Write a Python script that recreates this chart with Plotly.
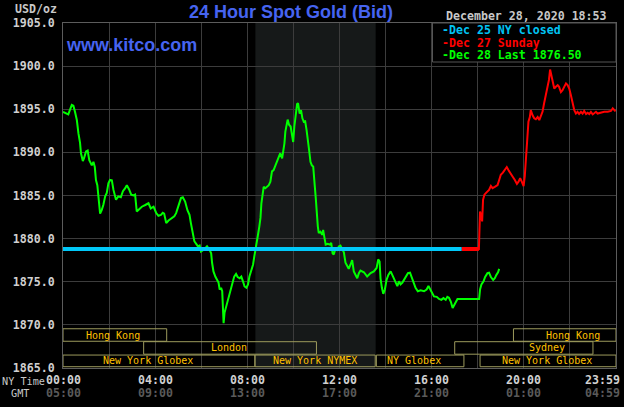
import plotly.graph_objects as go

# ---------------- data ----------------
# time in hours after 00:00 NY time, value in USD/oz
green_t = [0.00,0.16,0.23,0.38,0.45,0.52,0.60,0.67,0.74,0.78,0.86,0.91,1.00,1.07,1.14,1.25,1.32,1.38,1.43,1.49,
           1.55,1.61,1.68,1.75,1.83,1.90,1.97,2.04,2.12,2.19,2.30,2.40,2.51,2.60,2.70,2.77,2.87,2.96,3.06,3.13,
           3.20,3.32,3.42,3.57,3.71,3.81,3.93,4.04,4.14,4.25,4.33,4.39,4.48,4.58,4.73,4.83,4.91,5.01,5.12,5.20,
           5.30,5.40,5.49,5.55,5.62,5.70,5.78,5.86,5.93,5.99,6.10,6.25,6.36,6.43,6.47,6.53,6.61,6.68,6.75,6.80,
           6.86,6.91,6.94,6.97,7.01,7.09,7.16,7.23,7.30,7.38,7.43,7.51,7.58,7.67,7.74,7.81,7.88,7.96,8.03,8.09,
           8.16,8.25,8.30,8.39,8.45,8.52,8.57,8.61,8.67,8.71,8.78,8.86,8.93,9.00,9.07,9.14,9.22,9.29,9.36,9.43,
           9.51,9.55,9.61,9.65,9.70,9.75,9.81,9.88,9.94,9.99,10.04,10.10,10.16,10.20,10.27,10.33,10.39,10.45,10.51,10.57,
           10.62,10.68,10.74,10.80,10.86,10.88,10.93,10.97,11.01,11.06,11.10,11.17,11.25,11.29,11.35,11.40,11.49,11.58,11.64,11.70,
           11.75,11.83,11.90,11.97,12.04,12.13,12.19,12.26,12.33,12.40,12.48,12.55,12.62,12.70,12.77,12.84,12.91,13.06,13.20,13.35,
           13.49,13.61,13.68,13.74,13.78,13.84,13.90,13.97,14.04,14.12,14.22,14.29,14.36,14.43,14.51,14.58,14.65,14.73,14.80,14.87,
           14.97,15.06,15.12,15.20,15.30,15.40,15.52,15.67,15.78,15.86,15.93,16.00,16.10,16.22,16.32,16.42,16.51,16.61,16.68,16.75,
           16.83,16.91,17.00,17.12,18.06,18.10,18.16,18.25,18.32,18.42,18.49,18.57,18.67,18.74,18.81,18.88,18.93]
green_v = [1894.7,1894.5,1894.4,1895.5,1895.4,1894.7,1893.75,1892.2,1891.1,1889.9,1889.0,1889.3,1890.1,1890.2,1889.1,1888.5,1888.9,1888.3,1886.8,1886.2,
           1884.1,1882.9,1883.3,1883.9,1884.9,1885.3,1886.4,1886.8,1886.75,1885.65,1884.5,1884.9,1884.8,1885.5,1885.85,1886.2,1885.7,1885.1,1885.0,1885.1,
           1883.15,1883.5,1883.7,1883.9,1884.1,1883.5,1883.7,1883.0,1882.65,1882.75,1883.0,1882.9,1881.8,1882.1,1882.4,1882.6,1882.95,1883.9,1884.7,1884.8,
           1884.3,1883.3,1882.75,1881.8,1880.65,1879.7,1879.4,1879.1,1879.2,1878.5,1878.7,1879.1,1878.7,1878.3,1877.2,1876.2,1875.6,1875.3,1874.9,1874.1,
           1874.3,1873.9,1872.55,1870.2,1871.4,1872.15,1872.9,1873.6,1874.1,1874.9,1875.6,1875.9,1875.55,1875.4,1875.6,1875.05,1874.45,1874.3,1874.7,1875.6,
           1876.2,1877.0,1877.9,1879.1,1880.25,1881.4,1882.4,1884.1,1885.1,1886.0,1885.85,1886.0,1886.2,1886.6,1887.8,1887.95,1888.5,1888.9,1889.5,1889.9,
           1889.3,1889.9,1891.05,1892.4,1893.4,1893.8,1893.2,1893.0,1892.0,1891.2,1893.0,1894.3,1895.6,1895.7,1894.5,1894.9,1893.95,1893.55,1893.6,1892.6,
           1891.2,1890.3,1888.9,1888.5,1888.35,1887.2,1886.0,1884.7,1882.95,1881.4,1880.65,1880.8,1880.45,1881.0,1880.05,1879.3,1879.4,1879.3,1879.5,1878.3,
           1878.15,1878.9,1878.7,1879.1,1879.2,1878.7,1878.4,1877.2,1876.8,1876.5,1877.0,1877.5,1876.2,1875.8,1875.4,1876.0,1876.3,1876.1,1875.6,1876.0,
           1876.2,1876.6,1877.6,1877.35,1875.4,1874.3,1873.6,1874.1,1875.2,1875.8,1876.2,1875.8,1875.4,1874.9,1874.5,1875.05,1874.7,1874.9,1875.2,1875.6,
           1876.0,1876.05,1875.6,1874.9,1874.3,1873.9,1874.0,1873.9,1874.1,1874.5,1874.1,1873.7,1873.3,1873.25,1873.0,1872.9,1873.1,1872.9,1873.25,1873.15,
           1872.7,1871.95,1872.45,1873.0,1873.0,1874.1,1874.7,1875.05,1875.55,1876.0,1876.05,1875.55,1875.2,1875.4,1875.8,1876.1,1876.5]

red_t = [17.30,18.05,18.07,18.10,18.14,18.19,18.23,18.29,18.36,18.42,18.49,18.57,18.64,18.74,18.86,18.93,19.00,19.09,19.17,19.26,
         19.33,19.40,19.51,19.61,19.70,19.77,19.84,19.91,19.99,20.04,20.09,20.12,20.16,20.20,20.26,20.30,20.38,20.45,20.52,20.60,
         20.67,20.74,20.81,20.88,20.96,21.03,21.09,21.14,21.20,21.26,21.32,21.39,21.47,21.53,21.61,21.68,21.75,21.83,21.90,21.97,
         22.04,22.12,22.19,22.26,22.33,22.40,22.48,22.55,22.62,22.70,22.77,22.84,22.91,22.99,23.06,23.13,23.20,23.35,23.49,23.64,
         23.78,23.86,23.93,23.98]
red_v = [1878.8,1878.8,1880.65,1883.15,1882.75,1882.0,1884.5,1885.1,1885.3,1885.5,1885.65,1886.1,1885.85,1886.0,1886.2,1886.8,1887.4,1887.65,1887.95,1888.3,
         1887.95,1887.6,1887.2,1886.8,1886.35,1886.6,1887.0,1886.6,1886.1,1887.2,1889.1,1890.3,1892.2,1893.55,1894.1,1894.9,1894.3,1893.95,1893.85,1894.1,
         1893.75,1894.3,1894.7,1895.7,1896.85,1897.4,1898.4,1899.6,1898.95,1898.4,1897.4,1897.6,1897.8,1897.6,1897.0,1897.2,1897.6,1898.0,1897.8,1897.4,
         1896.65,1895.7,1894.9,1894.5,1894.7,1894.45,1894.7,1894.5,1894.8,1894.45,1894.6,1894.45,1894.7,1894.4,1894.6,1894.7,1894.5,1894.6,1894.7,1894.7,
         1894.8,1895.1,1894.8,1894.75]

prev_close = 1878.8          # Dec 25 NY close
prev_close_t = [0.0, 17.30]

legend_texts = ["-Dec 25 NY closed", "-Dec 27 Sunday", "-Dec 28 Last 1876.50"]
stamp = "December 28, 2020 18:53"

ny_ticks = [0, 4, 8, 12, 16, 20]
ny_labels = ["00:00", "04:00", "08:00", "12:00", "16:00", "20:00"]
gmt_labels = ["05:00", "09:00", "13:00", "17:00", "21:00", "01:00"]
end_ny, end_gmt = "23:59", "04:59"

# market sessions: name, start h, end h, row
sessions = [("Hong Kong", 0.0, 4.5, 1), ("Hong Kong", 19.55, 24.0, 1),
            ("London", 3.5, 11.0, 2), ("Sydney", 17.0, 23.0, 2),
            ("New York Globex", 0.0, 8.33, 3), ("New York NYMEX", 8.33, 13.55, 3),
            ("NY Globex", 13.6, 17.4, 3), ("New York Globex", 18.1, 24.0, 3)]
pit = (8.35, 13.57)

# ---------------- layout helpers ----------------
label_centers = [2.16, 22.12, 7.20, 21.02, 3.68, 10.94, 15.23, 21.01]
rows = {1: (1868.1, 1869.55), 2: (1866.6, 1868.05), 3: (1865.15, 1866.5)}
L, R, T, B = 63, 616, 23, 368
W, H = 624, 407
MONO = "DejaVu Sans Mono"
SANS = "Liberation Sans, Arial"


def pp(xp, yp):
    return dict(xref="paper", yref="paper", x=(xp - L) / (R - L), y=(B - yp) / (B - T))


fig = go.Figure()
fig.add_trace(go.Scatter(x=green_t, y=green_v, mode="lines",
                         line=dict(color="#00ff00", width=2), hoverinfo="skip"))
fig.add_trace(go.Scatter(x=red_t, y=red_v, mode="lines",
                         line=dict(color="#ff0000", width=2), hoverinfo="skip"))
fig.add_trace(go.Scatter(x=red_t[:2], y=red_v[:2], mode="lines",
                         line=dict(color="#ff0000", width=4), hoverinfo="skip"))
fig.add_trace(go.Scatter(x=prev_close_t, y=[prev_close] * 2, mode="lines",
                         line=dict(color="#00c8f8", width=4), hoverinfo="skip"))

shapes = []
shapes.append(dict(type="rect", xref="x", yref="paper", x0=pit[0], x1=pit[1], y0=0, y1=1,
                   fillcolor="#161919", line=dict(width=0), layer="below"))
anns = []
for (name, s, e, r), c in zip(sessions, label_centers):
    y0, y1 = rows[r]
    shapes.append(dict(type="rect", xref="x", yref="y", x0=s, x1=e, y0=y0, y1=y1,
                       fillcolor="rgba(0,0,0,0)", line=dict(color="#9c9a5c", width=1), layer="above"))
    anns.append(dict(xref="x", yref="y", x=c, y=(y0 + y1) / 2, text=name, showarrow=False,
                     xanchor="center", yanchor="middle",
                     font=dict(family=MONO, size=10, color="#ffc000")))

# legend box
shapes.append(dict(type="rect", xref="paper", yref="paper",
                   x0=(432.5 - L) / (R - L), x1=1, y0=(B - 62) / (B - T), y1=1,
                   fillcolor="#000000", line=dict(color="#555555", width=1), layer="above"))

leg_colors = ["#00c4f4", "#ff0000", "#00ff00"]
for i, (t, col) in enumerate(zip(legend_texts, leg_colors)):
    anns.append(dict(**pp(440, 30.5 + 12.2 * i), text=t, showarrow=False, xanchor="left", yanchor="middle",
                     font=dict(family=MONO, size=11.6, color=col, weight="bold")))

anns.append(dict(**pp(444, 16), text=stamp, showarrow=False, xanchor="left", yanchor="middle",
                 font=dict(family=MONO, size=11.6, color="#c8c8c8", weight="bold")))
anns.append(dict(**pp(290.5, 12), text="24 Hour Spot Gold (Bid)", showarrow=False,
                 xanchor="center", yanchor="middle",
                 font=dict(family=SANS, size=18, color="#4664f0", weight="bold")))
anns.append(dict(**pp(64, 45), text="www.kitco.com", showarrow=False,
                 xanchor="left", yanchor="middle",
                 font=dict(family=SANS, size=18, color="#4664f0", weight="bold")))
anns.append(dict(**pp(58.5, 9), text="USD/oz", showarrow=False, xanchor="right", yanchor="middle",
                 font=dict(family=MONO, size=11.6, color="#c8c8c8", weight="bold")))
anns.append(dict(**pp(0, 381), text="NY Time", showarrow=False, xanchor="left", yanchor="middle",
                 font=dict(family=MONO, size=10.2, color="#c8c8c8")))
anns.append(dict(**pp(9, 393), text="GMT", showarrow=False, xanchor="left", yanchor="middle",
                 font=dict(family=MONO, size=10.2, color="#c8c8c8")))

for h, a, g in zip(ny_ticks, ny_labels, gmt_labels):
    anns.append(dict(xref="x", yref="paper", x=h, y=(B - 379.5) / (B - T), text=a, showarrow=False,
                     xanchor="center", yanchor="middle",
                     font=dict(family=MONO, size=11.6, color="#d0d0d0", weight="bold")))
    anns.append(dict(xref="x", yref="paper", x=h, y=(B - 393) / (B - T), text=g, showarrow=False,
                     xanchor="center", yanchor="middle",
                     font=dict(family=MONO, size=11.6, color="#5a5a5a", weight="bold")))
anns.append(dict(xref="x", yref="paper", x=24, xshift=6, y=(B - 379.5) / (B - T), text=end_ny,
                 showarrow=False, xanchor="right", yanchor="middle",
                 font=dict(family=MONO, size=11.6, color="#d0d0d0", weight="bold")))
anns.append(dict(xref="x", yref="paper", x=24, xshift=6, y=(B - 393) / (B - T), text=end_gmt,
                 showarrow=False, xanchor="right", yanchor="middle",
                 font=dict(family=MONO, size=11.6, color="#5a5a5a", weight="bold")))

fig.update_layout(
    width=W, height=H,
    margin=dict(l=L, r=W - R, t=T, b=H - B, pad=0, autoexpand=False),
    paper_bgcolor="#000000", plot_bgcolor="#000000",
    showlegend=False,
    shapes=shapes, annotations=anns,
    xaxis=dict(range=[0, 24], dtick=2, tick0=0, showgrid=True, gridcolor="#3c3c3c", gridwidth=1,
               showticklabels=False, zeroline=False, showline=True, linecolor="#5c5c5c",
               mirror=True, ticks="", automargin=False),
    yaxis=dict(range=[1865, 1905], dtick=5, tick0=1865, showgrid=True, gridcolor="#3c3c3c", gridwidth=1,
               tickformat=".1f", zeroline=False, showline=True, linecolor="#5c5c5c", mirror=True,
               ticks="", ticklabelstandoff=5, automargin=False,
               tickfont=dict(family=MONO, size=11.6, color="#d0d0d0", weight="bold")),
)

fig.write_html("out.html", config={"displayModeBar": False},
               post_script="document.body.style.margin='0px';document.body.style.background='#000';")
